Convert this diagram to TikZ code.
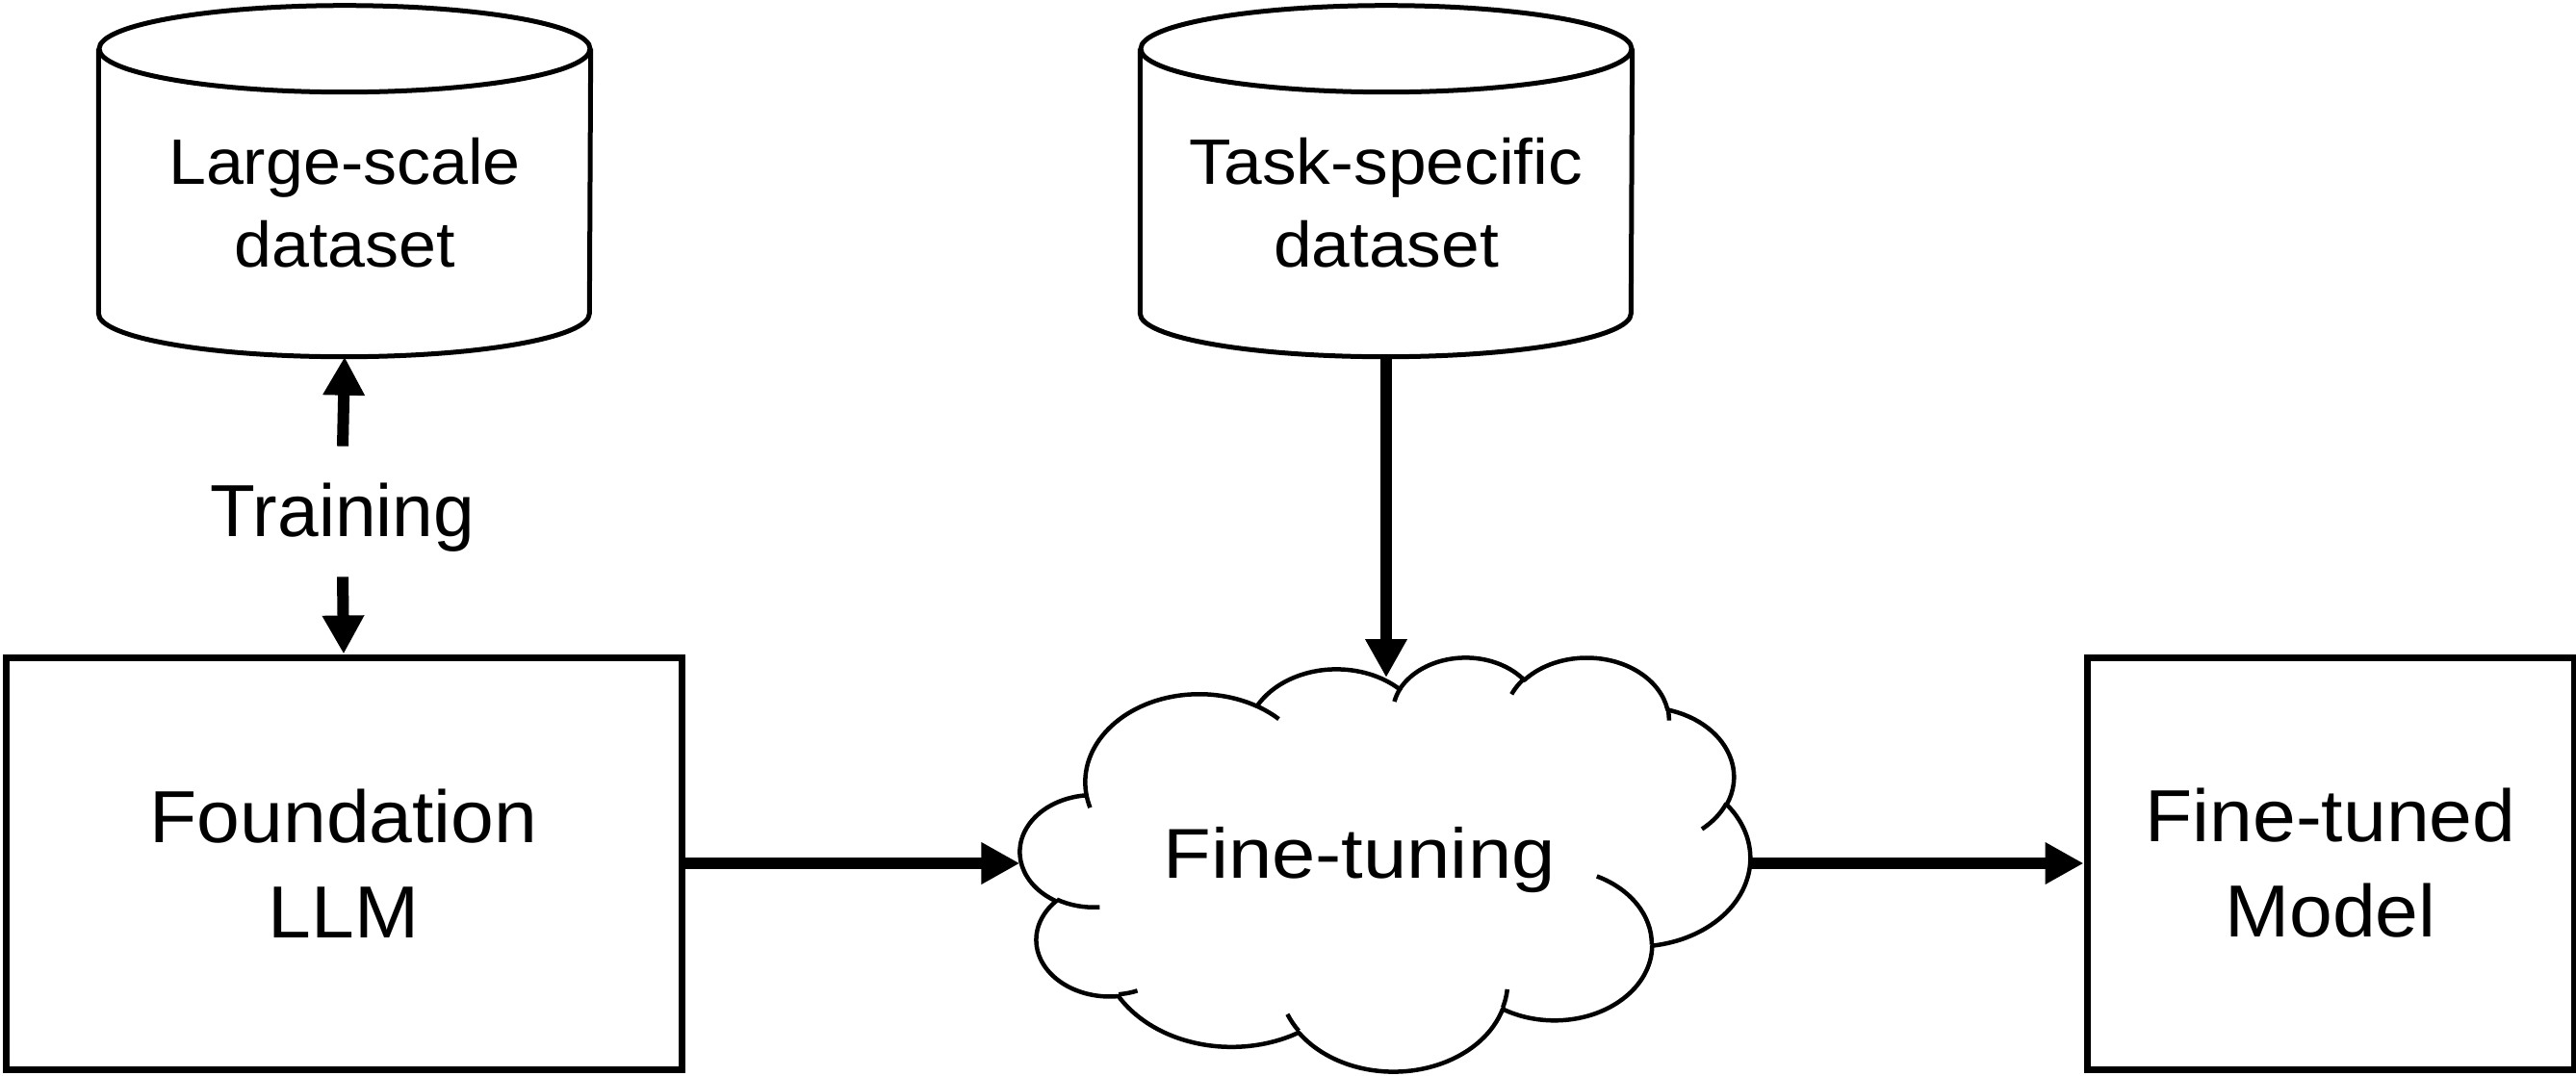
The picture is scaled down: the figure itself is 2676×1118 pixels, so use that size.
\documentclass[tikz,border=0pt]{standalone}
\usepackage{fontspec}
\setmainfont[FakeStretch=1.05]{Liberation Sans}
\newfontfamily\plainfont{Liberation Sans}
\newfontfamily\widefont[FakeStretch=1.11]{Liberation Sans}
\newfontfamily\midfont[FakeStretch=1.07]{Liberation Sans}
\usetikzlibrary{arrows.meta}
\newcommand\ooang[5]{%
  \pgfmathsetmacro\ooa{#4}%
  \pgfmathsetmacro\oot{atan2((#2)*sin(\ooa),(#3)*cos(\ooa))}%
  \pgfmathsetmacro\ood{\oot-\ooa}%
  \pgfmathsetmacro\ood{\ood-360*round(\ood/360)}%
  \pgfmathsetmacro\ooS{\ooa+\ood}%
  \pgfmathsetmacro\oob{#4+#5}%
  \pgfmathsetmacro\oot{atan2((#2)*sin(\oob),(#3)*cos(\oob))}%
  \pgfmathsetmacro\ood{\oot-\oob}%
  \pgfmathsetmacro\ood{\ood-360*round(\ood/360)}%
  \pgfmathsetmacro\ooE{\oob+\ood}%
  \expandafter\xdef\csname ooS#1\endcsname{\ooS}%
  \expandafter\xdef\csname ooE#1\endcsname{\ooE}%
}
\tikzset{
  boxnode/.style={draw, line width=2.1pt, minimum height=128.4pt, inner sep=0pt,
    align=center, font=\fontsize{23pt}{29.7pt}\selectfont},
  cyltext/.style={minimum width=153pt, minimum height=95.6pt, inner sep=0pt,
    align=center, font=\fontsize{20pt}{26pt}\selectfont},
  cylline/.style={line width=1.5pt},
  cloudline/.style={line width=1.35pt},
  labeltext/.style={inner sep=0pt, font=\plainfont\fontsize{23pt}{29.7pt}\selectfont},
  cloudshape/.style={minimum width=227.4pt, minimum height=129pt, inner sep=0pt},
  cloudtext/.style={inner sep=0pt, font=\widefont\fontsize{22pt}{28pt}\selectfont},
  arr/.style={line width=3.6pt, -{Triangle[length=12pt,width=12.3pt]}},
}
\begin{document}
\begin{tikzpicture}[x=0.3pt,y=-0.3pt]
\useasboundingbox (0,0) rectangle (2676,1118);
% datasets
\node[cyltext] (ld) at (358,210.7) {Large-scale\\dataset};
\node[cyltext, font=\midfont\fontsize{20pt}{26pt}\selectfont] (td) at (1440,210.7) {Task-specific\\dataset};
\foreach \c in {ld,td}{
  \draw[cylline] (\c.north west) -- ([yshift=13.5pt]\c.south west)
    arc[x radius=76.5pt, y radius=13.5pt, start angle=180, end angle=360]
    -- (\c.north east);
  \draw[cylline] (\c.north) ellipse[x radius=76.5pt, y radius=13.5pt];
}
% boxes
\node[boxnode, minimum width=210.6pt] (fnd) at (357,897) {Foundation\\LLM};
\node[boxnode, minimum width=151.8pt] (tuned) at (2421,897) {Fine-tuned\\Model};
% training label
\node[labeltext] (trn) at (356,538) {Training};
% cloud
\node[cloudshape] (ft) at (1439,897) {};
\node[cloudtext] (ftt) at (1412,894) {Fine-tuning};
\coordinate (ftTop) at (1440,704);
\ooang{a}{67.53}{91.90}{-190.4875}{123.7805}
\ooang{b}{53.33}{72.67}{-144.1024}{89.9452}
\ooang{c}{43.65}{59.45}{-145.8079}{99.7230}
\ooang{d}{48.57}{65.95}{-130.9861}{117.2417}
\ooang{e}{53.33}{72.73}{-78.7089}{109.0269}
\ooang{f}{67.75}{92.20}{-46.2673}{130.2690}
\ooang{g}{57.85}{78.67}{0.6250}{114.0333}
\ooang{h}{67.52}{92.15}{22.4516}{115.1726}
\ooang{i}{77.20}{105.43}{66.2426}{75.7110}
\ooang{j}{43.60}{59.18}{-274.9421}{146.7356}
\ooang{k}{43.45}{59.45}{-246.8285}{152.5189}
\ooang{ha}{43.45}{59.45}{86.7420}{26.4295}
\ooang{hb}{43.60}{59.18}{73.6105}{11.4475}
\ooang{hc}{67.52}{92.15}{137.6242}{14.0811}
\ooang{hd}{67.52}{92.15}{6.4533}{15.9984}
\ooang{he}{57.85}{78.67}{-70.2924}{70.9174}
\ooang{hf}{53.33}{72.73}{30.3180}{27.7515}
\ooang{hg}{48.57}{65.95}{-13.7443}{14.8589}
\ooang{hh}{48.57}{65.95}{-149.1815}{18.1954}
\ooang{hi}{43.65}{59.45}{-163.4943}{17.6864}
\ooang{hj}{67.53}{91.90}{-66.7075}{12.3194}
\ooang{hk}{67.53}{91.90}{-202.36}{11.87}
\begin{scope}[shift={(1060,682)}, x=0.52639pt, y=-0.29861pt]
\draw[cloudline, line join=round] (39.00,143.70)
  arc[x radius=67.53, y radius=91.90, start angle=\ooSa, end angle=\ooEa]
  arc[x radius=53.33, y radius=72.67, start angle=\ooSb, end angle=\ooEb]
  arc[x radius=43.65, y radius=59.45, start angle=\ooSc, end angle=\ooEc]
  arc[x radius=48.57, y radius=65.95, start angle=\ooSd, end angle=\ooEd]
  arc[x radius=53.33, y radius=72.73, start angle=\ooSe, end angle=\ooEe]
  arc[x radius=67.75, y radius=92.20, start angle=\ooSf, end angle=\ooEf]
  arc[x radius=57.85, y radius=78.67, start angle=\ooSg, end angle=\ooEg]
  arc[x radius=67.52, y radius=92.15, start angle=\ooSh, end angle=\ooEh]
  arc[x radius=77.20, y radius=105.43, start angle=\ooSi, end angle=\ooEi]
  arc[x radius=43.60, y radius=59.18, start angle=\ooSj, end angle=\ooEj]
  arc[x radius=43.45, y radius=59.45, start angle=\ooSk, end angle=\ooEk]
  -- cycle;
\draw[cloudline]
  (46.93,261.77) arc[x radius=43.45, y radius=59.45, start angle=\ooSha, end angle=\ooEha]
  (69.28,348.99) arc[x radius=43.60, y radius=59.18, start angle=\ooShb, end angle=\ooEhb]
  (164.78,390.90) arc[x radius=67.52, y radius=92.15, start angle=\ooShc, end angle=\ooEhc]
  (288.27,347.51) arc[x radius=67.52, y radius=92.15, start angle=\ooShd, end angle=\ooEhd]
  (341.29,229.54) arc[x radius=57.85, y radius=78.67, start angle=\ooShe, end angle=\ooEhe]
  (417.98,153.54) arc[x radius=53.33, y radius=72.73, start angle=\ooShf, end angle=\ooEhf]
  (383.24,54.26) arc[x radius=48.57, y radius=65.95, start angle=\ooShg, end angle=\ooEhg]
  (290.78,39.52) arc[x radius=48.57, y radius=65.95, start angle=\ooShh, end angle=\ooEhh]
  (221.41,47.20) arc[x radius=43.65, y radius=59.45, start angle=\ooShi, end angle=\ooEhi]
  (140.00,51.92) arc[x radius=67.53, y radius=91.90, start angle=\ooShj, end angle=\ooEhj]
  (41.27,157.89) arc[x radius=67.53, y radius=91.90, start angle=\ooShk, end angle=\ooEhk];
\end{scope}
% connectors
\draw[arr] ([yshift=11.4pt]trn.north) -- (ld.south);
\draw[arr] ([yshift=-7.5pt]trn.south) -- (fnd.north);
\draw[arr] (td.south) -- (ftTop);
\draw[arr] (fnd.east) -- (ft.west);
\draw[arr] (ft.east) -- (tuned.west);
\end{tikzpicture}
\end{document}
